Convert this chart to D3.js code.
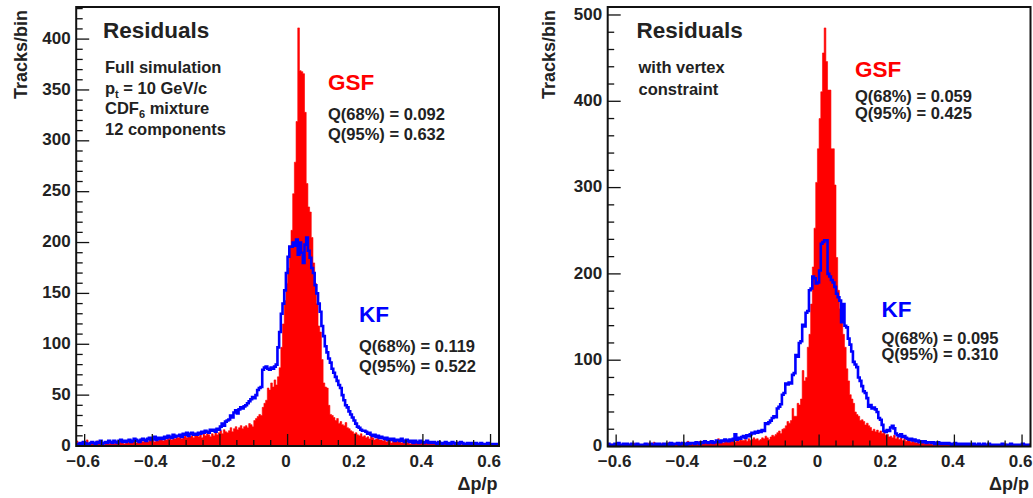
<!DOCTYPE html>
<html><head><meta charset="utf-8">
<script src="https://cdn.jsdelivr.net/npm/d3@7"></script>
<style>
html,body{margin:0;padding:0;background:#fff;}
svg{display:block;}
text{font-family:"Liberation Sans",Arial,Helvetica,sans-serif;font-weight:bold;fill:#222;}
</style></head>
<body>
<svg id="c" width="1033" height="498"></svg>
<script>
// ---- data ----
const binStart = -0.625, binWidth = 0.005;
const xTicks = [-0.6, -0.4, -0.2, 0, 0.2, 0.4, 0.6];
const yTicksLeft = [0, 50, 100, 150, 200, 250, 300, 350, 400];
const yTicksRight = [0, 100, 200, 300, 400, 500];

// Left panel: full simulation
const gsfFull = [
5,3,2,4,1,3,6,2,3,4, 2,3,5,2,4,3,1,3,4,2, 3,4,2,5,3,4,6,3,2,4, 4,3,5,4,6,3,4,5,7,4,
5,6,4,7,5,6,4,8,5,6, 6,5,8,6,7,9,6,8,7,10, 8,10,7,9,12,8,11,9,10,8, 10,12,9,11,8,13,10,12,11,9,
12,10,14,11,13,15,12,16,14,13, 15,18,14,17,19,16,18,20,17,19, 20,18,22,21,19,25,27,29,31,30,
38,42,45,57,55,62,58,65,60,68, 77,97,120,143,160,175,195,212,248,279,
319,411,369,368,366,328,258,235,230,205, 180,160,140,118,112,85,62,58,57,40,
31,30,28,25,27,22,24,21,20,23, 18,17,15,14,12,13,11,10,12,9, 10,8,9,7,10,8,6,7,9,6,
6,5,7,4,6,5,3,5,4,6, 4,5,3,4,6,3,4,2,5,3, 3,4,2,3,5,2,3,4,2,3, 2,3,4,2,3,1,3,2,4,2,
3,2,1,3,2,4,2,1,3,2, 2,1,3,2,1,2,3,1,2,1, 1,2,1,3,2,1,2,1,2,1];
const kfFull = [
2,1,3,2,4,3,2,1,3,4, 3,2,4,3,5,2,3,4,3,5, 4,3,5,4,3,5,6,4,5,4, 5,6,4,5,7,6,5,4,6,7,
6,5,7,8,6,7,9,6,8,7, 8,7,9,8,10,9,8,11,9,10, 10,11,9,12,11,13,10,12,13,11, 12,11,13,12,14,13,15,14,13,16,
15,16,14,17,16,19,22,20,24,25, 26,30,28,33,35,32,36,38,37,39, 40,42,44,46,48,47,50,55,57,58,
75,77,78,76,75,77,76,78,80,97, 112,130,140,153,170,186,196,196,200,197,
203,188,200,190,180,198,205,192,185,175, 170,158,150,140,132,118,108,98,92,86,
82,76,72,68,64,60,57,50,45,40, 38,34,31,28,25,22,19,18,16,15, 15,14,12,13,11,10,11,9,10,8,
9,8,7,8,6,7,6,7,5,6, 6,5,7,5,4,6,5,4,5,3, 5,4,3,5,4,3,4,5,3,4, 3,4,3,2,4,3,2,3,4,2,
3,2,4,3,2,3,2,4,3,2, 2,3,2,3,1,2,3,2,1,3, 2,1,2,3,2,1,2,2,1,2];

// Right panel: with vertex constraint
const gsfVtx = [
2,1,3,2,1,2,3,1,2,1, 1,2,3,1,2,4,2,1,3,2, 2,3,1,2,4,2,3,5,2,3, 3,2,4,3,2,3,5,3,4,2,
3,4,2,5,3,4,3,6,4,3, 4,3,5,4,6,4,5,7,5,4, 5,4,6,5,7,9,5,6,4,7, 6,5,7,6,8,5,7,6,8,7,
7,8,6,9,7,8,10,8,9,7, 8,10,9,12,10,8,11,13,12,14, 16,18,15,20,21,24,29,27,30,44,
35,35,50,48,55,88,76,80,115,130, 165,208,253,306,345,380,411,456,485,446,
413,413,345,345,303,219,181,160,154,130, 115,90,76,60,55,50,40,37,35,30,
31,29,25,27,24,22,18,20,17,19, 16,18,15,17,13,14,11,12,10,13, 9,11,8,10,7,9,6,8,7,5,
6,5,4,6,3,5,4,3,5,4, 3,4,2,5,3,2,4,3,2,3, 2,3,4,2,1,3,2,3,2,1, 2,1,3,2,3,1,2,2,1,3,
1,2,2,1,3,2,1,2,1,2, 2,1,2,1,2,3,1,2,1,1, 1,2,1,1,2,1,3,1,2,3];
const kfVtx = [
3,2,1,2,3,2,4,2,1,3, 2,3,2,1,3,2,2,3,1,2, 2,1,3,2,2,3,1,2,3,2, 3,2,2,3,1,3,2,4,2,3,
3,4,2,3,4,3,2,4,3,4, 4,3,5,4,3,5,4,6,5,4, 5,6,4,5,7,6,5,7,6,8, 7,6,8,7,9,14,8,10,9,11,
12,10,13,12,14,16,15,17,16,18, 17,19,18,27,26,28,30,33,35,34, 44,46,49,60,62,73,72,74,73,83,
85,106,104,120,122,141,139,155,157,181, 183,197,195,189,190,204,235,237,239,239,
200,197,193,190,185,177,173,169,144,165, 140,138,125,118,110,98,95,92,80,76,
70,64,62,56,46,48,44,45,43,40, 33,31,25,18,17,19,18,22,24,21, 15,13,12,14,11,12,10,9,8,9,
7,8,6,7,5,6,5,6,4,5, 5,4,5,3,4,5,3,4,3,4, 3,4,3,2,3,4,2,3,2,3, 2,3,2,3,2,1,3,2,2,3,
2,2,3,1,2,3,2,1,2,2, 1,2,2,3,1,2,2,1,3,2, 2,1,2,2,1,3,2,1,2,2];

const panels = [
  {frame:[76.2, 7, 499, 446], gsf:gsfFull, kf:kfFull, yTicks:yTicksLeft, yMinor:10,
   titleX:103, notes:[{t:["Full simulation"],y:73},{t:["p",{sub:"t"}," = 10 GeV/c"],y:93.5},
                      {t:["CDF",{sub:"6"}," mixture"],y:114},{t:["12 components"],y:135}],
   gsfLab:{x:328,y:90,q:["Q(68%) = 0.092","Q(95%) = 0.632"],qy:[119.5,139.5]},
   kfLab:{x:359,y:321.5,q:["Q(68%) = 0.119","Q(95%) = 0.522"],qy:[351.5,371.5]},
   ytitleX:26.5},
  {frame:[607.7, 7, 1030.5, 446.5], gsf:gsfVtx, kf:kfVtx, yTicks:yTicksRight, yMinor:20,
   titleX:636.5, notes:[{t:["with vertex"],y:73.3},{t:["constraint"],y:95}],
   gsfLab:{x:855,y:77,q:["Q(68%) = 0.059","Q(95%) = 0.425"],qy:[101.5,118.5]},
   kfLab:{x:881.5,y:316.5,q:["Q(68%) = 0.095","Q(95%) = 0.310"],qy:[343.5,360]},
   ytitleX:555}
];

const svg = d3.select("#c");
const nb = gsfFull.length;

panels.forEach((p, pi) => {
  const [L, T, R, B] = p.frame;
  const x = d3.scaleLinear().domain([binStart, binStart + nb*binWidth]).range([L, R]);
  const ymax = d3.max(p.gsf.concat(p.kf)) * 1.05;
  const y = d3.scaleLinear().domain([0, ymax]).range([B, T]);
  const g = svg.append("g");
  const clipId = "clip" + pi;
  g.append("clipPath").attr("id", clipId).append("rect")
    .attr("x", L).attr("y", T).attr("width", R - L).attr("height", B - T);

  const pts = arr => { const a = arr.map((v,i)=>({x:binStart+i*binWidth, v})); a.push({x:binStart+nb*binWidth, v:arr[nb-1]}); return a; };
  const area = d3.area().curve(d3.curveStepAfter).x(d=>x(d.x)).y0(y(0)).y1(d=>y(d.v));
  const line = d3.line().curve(d3.curveStepAfter).x(d=>x(d.x)).y(d=>y(d.v));
  const hg = g.append("g").attr("clip-path", `url(#${clipId})`);
  hg.append("path").attr("d", area(pts(p.gsf))).attr("fill", "#ff0000").attr("stroke","#ff0000").attr("stroke-width",0.6);
  hg.append("path").attr("d", line(pts(p.kf))).attr("fill", "none").attr("stroke", "#0000ff").attr("stroke-width", 2.6).attr("stroke-linejoin","miter");

  // frame
  g.append("rect").attr("x", L).attr("y", T).attr("width", R - L).attr("height", B - T)
    .attr("fill", "none").attr("stroke", "#111").attr("stroke-width", 2);

  // x axis ticks (inside)
  const xMinor = d3.range(-0.6, 0.6001, 0.05);
  g.selectAll(null).data(xMinor).enter().append("line")
    .attr("x1", d=>x(d)).attr("x2", d=>x(d)).attr("y1", B).attr("y2", d => B - (Math.abs(Math.round(d*100)) % 20 === 0 ? 12 : 6))
    .attr("stroke", "#111").attr("stroke-width", 1.3);
  g.selectAll(null).data(xTicks).enter().append("text")
    .attr("x", d=>x(d) - 1.5).attr("y", B + 20.5).attr("text-anchor", "middle").attr("font-size", 17)
    .text(d => d === 0 ? "0" : d3.format(".1f")(d));

  // y axis ticks (inside)
  const yMin = d3.range(0, ymax, p.yMinor);
  const majStep = p.yTicks[1] - p.yTicks[0];
  g.selectAll(null).data(yMin).enter().append("line")
    .attr("x1", L).attr("x2", d => L + (d % majStep === 0 ? 13 : 6.5)).attr("y1", d=>y(d)).attr("y2", d=>y(d))
    .attr("stroke", "#111").attr("stroke-width", 1.3);
  g.selectAll(null).data(p.yTicks).enter().append("text")
    .attr("x", L - 5.5).attr("y", d=>y(d) - 1.5).attr("dy", "0.36em").attr("text-anchor", "end").attr("font-size", 17)
    .text(d=>d);

  // axis titles
  g.append("text").attr("transform", `translate(${p.ytitleX},${T + 3}) rotate(-90)`)
    .attr("text-anchor", "end").attr("font-size", 18).text("Tracks/bin");
  g.append("text").attr("x", R - 1.5).attr("y", 490).attr("text-anchor", "end").attr("font-size", 18).text("Δp/p");

  // annotations
  g.append("text").attr("x", p.titleX).attr("y", 38).attr("font-size", 22.5).text("Residuals");
  p.notes.forEach(n => {
    const t = g.append("text").attr("x", p.titleX + 2).attr("y", n.y).attr("font-size", 16.5);
    let lowered = false;
    n.t.forEach(part => {
      if (typeof part === "string") {
        const s = t.append("tspan").text(part);
        if (lowered) { s.attr("dy", -4); lowered = false; }
      } else {
        t.append("tspan").attr("font-size", 11).attr("dy", 4).text(part.sub);
        lowered = true;
      }
    });
  });
  g.append("text").attr("x", p.gsfLab.x).attr("y", p.gsfLab.y).attr("font-size", 22.5).style("fill", "#ff0000").text("GSF");
  p.gsfLab.q.forEach((s, i) => g.append("text").attr("x", p.gsfLab.x).attr("y", p.gsfLab.qy[i]).attr("font-size", 16.5).text(s));
  g.append("text").attr("x", p.kfLab.x).attr("y", p.kfLab.y).attr("font-size", 22.5).style("fill", "#0000ff").text("KF");
  p.kfLab.q.forEach((s, i) => g.append("text").attr("x", p.kfLab.x).attr("y", p.kfLab.qy[i]).attr("font-size", 16.5).text(s));
});
</script>
</body></html>
